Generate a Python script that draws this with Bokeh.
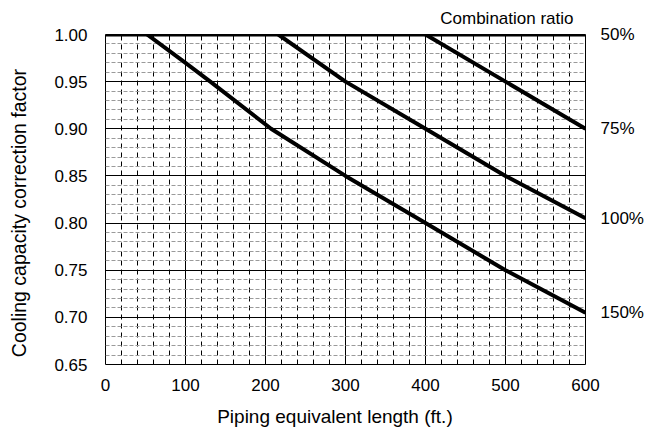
from bokeh.plotting import figure
from bokeh.models import FixedTicker, PrintfTickFormatter, Range1d, LinearAxis, Title
from bokeh.embed import file_html
from bokeh.resources import INLINE

# Data
x_ticks = [0, 100, 200, 300, 400, 500, 600]
x_minor = [v for v in range(20, 600, 20) if v % 100 != 0]
y_ticks = [0.65, 0.70, 0.75, 0.80, 0.85, 0.90, 0.95, 1.00]
y_minor = [round(0.65 + 0.01 * i, 2) for i in range(1, 35) if i % 5 != 0]

ratio_labels = ["50%", "75%", "100%", "150%"]
x_50 = [0, 600]
y_50 = [1.00, 1.00]
x_75 = [400, 500, 600]
y_75 = [1.00, 0.95, 0.90]
x_100 = [216, 300, 400, 500, 600]
y_100 = [1.00, 0.95, 0.90, 0.85, 0.805]
x_150 = [52, 100, 131, 207, 300, 400, 500, 600]
y_150 = [1.00, 0.97, 0.95, 0.90, 0.85, 0.80, 0.75, 0.705]
end_values = [y_50[-1], y_75[-1], y_100[-1], y_150[-1]]

FONT = "Liberation Sans"
NB = "\u00a0"

p = figure(width=646, height=431, output_backend="svg", toolbar_location=None,
           x_range=Range1d(0, 600), y_range=Range1d(0.65, 1.00),
           min_border_left=105, min_border_right=61, min_border_top=34, min_border_bottom=67,
           x_axis_label="Piping equivalent length (ft.)" + NB * 4,
           y_axis_label="Cooling capacity correction factor" + NB * 5)
p.background_fill_color = "white"
p.border_fill_color = "white"
p.outline_line_color = "black"
p.outline_line_width = 1

p.xaxis.ticker = FixedTicker(ticks=x_ticks, minor_ticks=x_minor)
p.yaxis.ticker = FixedTicker(ticks=y_ticks, minor_ticks=y_minor)
p.yaxis.formatter = PrintfTickFormatter(format="%.2f")

# right-hand axis carrying the combination ratio labels
right_axis = LinearAxis(ticker=FixedTicker(ticks=end_values),
                        major_label_overrides={v: t for v, t in zip(end_values, ratio_labels)})
p.add_layout(right_axis, "right")

for ax in (p.xaxis[0], p.yaxis[0], right_axis):
    ax.axis_line_color = None
    ax.major_tick_line_color = None
    ax.minor_tick_line_color = None
    ax.major_tick_in = 0
    ax.major_tick_out = 0
    ax.minor_tick_in = 0
    ax.minor_tick_out = 0
    ax.major_label_text_font = FONT
    ax.major_label_text_font_size = "17px"
    ax.major_label_text_color = "black"
    ax.axis_label_text_font = FONT
    ax.axis_label_text_font_style = "normal"
    ax.axis_label_text_color = "black"

p.xaxis.axis_label_text_font_size = "19px"
p.yaxis.axis_label_text_font_size = "19.5px"
p.xaxis.major_label_standoff = 14
p.yaxis.major_label_standoff = 18
right_axis.major_label_standoff = 15
p.xaxis.axis_label_standoff = 12
p.yaxis.axis_label_standoff = 21

p.add_layout(Title(text="Combination ratio", align="right", offset=12, standoff=10,
                   vertical_align="top",
                   text_font=FONT, text_font_size="17px", text_font_style="normal",
                   text_color="black"), "above")

# grids
p.xgrid.grid_line_color = "black"
p.xgrid.grid_line_width = 1
p.xgrid.minor_grid_line_color = "black"
p.xgrid.minor_grid_line_dash = "5 4"
p.xgrid.minor_grid_line_width = 1
p.ygrid.grid_line_color = "black"
p.ygrid.grid_line_width = 1
p.ygrid.minor_grid_line_color = "#9a9a9a"
p.ygrid.minor_grid_line_dash = "4 2"
p.ygrid.minor_grid_line_width = 1

# curves
for xs, ys in ((x_50, y_50), (x_75, y_75), (x_100, y_100), (x_150, y_150)):
    p.line(xs, ys, line_color="black", line_width=4, line_join="round")

open("out.html", "w").write(file_html(p, INLINE))
